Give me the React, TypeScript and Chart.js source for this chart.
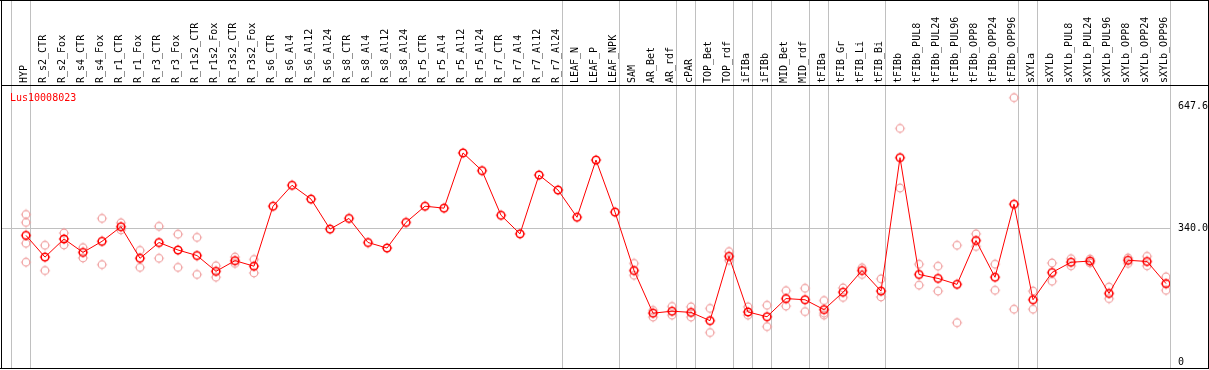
import React, { useEffect, useRef } from "react";
import { Chart, registerables } from "chart.js";

Chart.register(...registerables);

const TITLE = "Lus10008023";

const CATEGORIES = [
  "HYP",
  "R_s2_CTR", "R_s2_Fox", "R_s4_CTR", "R_s4_Fox", "R_r1_CTR", "R_r1_Fox",
  "R_r3_CTR", "R_r3_Fox", "R_r1s2_CTR", "R_r1s2_Fox", "R_r3s2_CTR", "R_r3s2_Fox",
  "R_s6_CTR", "R_s6_Al4", "R_s6_Al12", "R_s6_Al24",
  "R_s8_CTR", "R_s8_Al4", "R_s8_Al12", "R_s8_Al24",
  "R_r5_CTR", "R_r5_Al4", "R_r5_Al12", "R_r5_Al24",
  "R_r7_CTR", "R_r7_Al4", "R_r7_Al12", "R_r7_Al24",
  "LEAF_N", "LEAF_P", "LEAF_NPK",
  "SAM", "AR_Bet", "AR_rdf", "cPAR", "TOP_Bet", "TOP_rdf",
  "iFIBa", "iFIBb", "MID_Bet", "MID_rdf",
  "tFIBa", "tFIB_Gr", "tFIB_Li", "tFIB_Bi",
  "tFIBb", "tFIBb_PUL8", "tFIBb_PUL24", "tFIBb_PUL96", "tFIBb_OPP8", "tFIBb_OPP24", "tFIBb_OPP96",
  "sXYLa", "sXYLb", "sXYLb_PUL8", "sXYLb_PUL24", "sXYLb_PUL96", "sXYLb_OPP8", "sXYLb_OPP24", "sXYLb_OPP96",
];

const MEANS = [
  322,
  267, 313, 279, 307, 344, 264, 304, 285, 271, 231, 258, 244,
  396, 449, 414, 338,
  365, 304, 290, 355,
  396, 391, 531, 486,
  373, 326, 475, 437,
  368, 513, 381,
  233, 125, 130, 127, 106, 269,
  128, 116, 162, 159,
  134, 178, 233, 181,
  519, 223, 213, 198, 309, 216, 401,
  159, 228, 254, 257, 175, 259, 256, 200,
];

const N = null;
const REP_A = [
  375,
  297, 328, 291, 365, 354, 284, 345, 325, 317, 245, 267, 261,
  N, N, N, N, N, N, N, N, N, N, N, N, N, N, N, N,
  N, N, N,
  251, 132, 142, 141, 137, 281,
  141, 145, 182, 188,
  157, 189, 240, 212,
  593, 249, 244, 297, 326, 249, 671,
  181, 252, 263, 262, 191, 265, 269, 217,
];
const REP_B = [
  355,
  233, 298, 265, 248, 336, 241, 264, 241, 223, 216, 251, 227,
  N, N, N, N, N, N, N, N, N, N, N, N, N, N, N, N,
  N, N, N,
  221, 115, 120, 115, 76, 259,
  120, 91, 143, 129,
  120, 165, 223, 166,
  442, 196, 181, 101, 294, 183, 135,
  135, 206, 245, 252, 162, 251, 245, 183,
];
const REP_C = [
  302,
  N, N, N, N, N, N, N, N, N, N, N, N,
  N, N, N, N, N, N, N, N, N, N, N, N, N, N, N, N,
  N, N, N,
  N, N, N, N, N, N,
  N, N, N, N,
  125, N, N, N,
  N, N, N, N, N, N, N,
  N, N, N, N, N, N, N, N,
];
const REP_D = [
  254,
  N, N, N, N, N, N, N, N, N, N, N, N,
  N, N, N, N, N, N, N, N, N, N, N, N, N, N, N, N,
  N, N, N,
  N, N, N, N, N, N,
  N, N, N, N,
  N, N, N, N,
  N, N, N, N, N, N, N,
  N, N, N, N, N, N, N, N,
];

const Y_TICKS = [0, 340, 647.6];
const Y_TICK_LABELS = ["0", "340.0", "647.6"];
const Y_GRID_VALUES = [340];
// index of the last category of each group (separator drawn just after it)
const GROUP_ENDS = [-1, 0, 28, 31, 34, 35, 37, 38, 39, 41, 42, 45, 52, 53, 60];

const W = 1209;
const H = 370;
const MONO = "'DejaVu Sans Mono', 'Liberation Mono', monospace";

function makeMarker(color: string, lw: number): HTMLCanvasElement {
  const c = document.createElement("canvas");
  c.width = 12;
  c.height = 12;
  const g = c.getContext("2d")!;
  g.strokeStyle = color;
  g.fillStyle = color;
  g.lineWidth = lw;
  g.beginPath();
  g.arc(6, 6, 3.8, 0, Math.PI * 2);
  g.stroke();
  // tiny tick marks at the four cardinal points
  g.fillRect(5.5, 0.8, 1, 1);
  g.fillRect(5.5, 10.2, 1, 1);
  g.fillRect(0.8, 5.5, 1, 1);
  g.fillRect(10.2, 5.5, 1, 1);
  return c;
}

const toPoints = (arr: (number | null)[]) =>
  arr.map((v, i) => ({ x: i, y: v })).filter((p) => p.y !== null);

const zeroPad = (s: any) => {
  s.paddingLeft = 0;
  s.paddingRight = 0;
  s.paddingTop = 0;
  s.paddingBottom = 0;
};

export default function App() {
  const ref = useRef<HTMLCanvasElement | null>(null);

  useEffect(() => {
    document.body.style.margin = "0";
    const canvas = ref.current!;
    const meanMarker = makeMarker("#ff0000", 1.5);
    const repMarker = makeMarker("#f0a0a0", 1.2);

    const framePlugin = {
      id: "frame",
      beforeDraw(chart: any) {
        const ctx = chart.ctx;
        ctx.save();
        ctx.fillStyle = "#ffffff";
        ctx.fillRect(0, 0, W, H);
        ctx.restore();
      },
      beforeDatasetsDraw(chart: any) {
        const ctx = chart.ctx;
        const xs = chart.scales.x;
        ctx.save();
        ctx.fillStyle = "#c0c0c0";
        GROUP_ENDS.forEach((g) => {
          const px = xs.getPixelForValue(g + 0.237);
          ctx.fillRect(Math.floor(px), 0, 1, 369);
        });
        ctx.restore();
      },
      afterDraw(chart: any) {
        const ctx = chart.ctx;
        const area = chart.chartArea;
        ctx.save();
        ctx.fillStyle = "#000000";
        ctx.fillRect(0, 0, W, 1);
        ctx.fillRect(1, 0, 1, 369);
        ctx.fillRect(W - 1, 0, 1, 369);
        ctx.fillRect(0, 368, W, 1);
        ctx.fillRect(1, area.top - 1, W - 1, 1);
        ctx.fillStyle = "#ff0000";
        ctx.font = "10px " + MONO;
        ctx.textBaseline = "alphabetic";
        ctx.textAlign = "left";
        ctx.fillText(TITLE, area.left + 8, area.top + 15);
        ctx.restore();
      },
    };

    const chart = new Chart(canvas, {
      type: "line",
      data: {
        datasets: [
          {
            label: "mean",
            data: toPoints(MEANS) as any,
            borderColor: "#ff0000",
            backgroundColor: "#ff0000",
            borderWidth: 1,
            pointStyle: meanMarker as any,
            pointRadius: 5,
            tension: 0,
            order: 0,
          },
          ...[REP_A, REP_B, REP_C, REP_D].map((rep, k) => ({
            label: "rep" + (k + 1),
            data: toPoints(rep) as any,
            showLine: false,
            borderColor: "#f0a0a0",
            backgroundColor: "#f0a0a0",
            pointStyle: repMarker as any,
            pointRadius: 5,
            order: 1,
          })),
        ],
      },
      options: {
        animation: false,
        responsive: false,
        events: [],
        layout: { autoPadding: false, padding: { left: 2, right: 0, top: 0, bottom: 2 } },
        plugins: {
          legend: { display: false },
          tooltip: { enabled: false },
          title: { display: false },
        },
        scales: {
          x: {
            type: "linear",
            position: "top",
            min: -1.263,
            max: 60.21,
            grid: { display: false, drawTicks: false },
            border: { display: false },
            afterFit: (s: any) => {
              s.height = 86;
              zeroPad(s);
            },
            afterBuildTicks: (s: any) => {
              s.ticks = CATEGORIES.map((_, i) => ({ value: i }));
            },
            ticks: {
              autoSkip: false,
              minRotation: 90,
              maxRotation: 90,
              padding: 3,
              labelOffset: 10,
              color: "#000000",
              font: { family: MONO, size: 10 },
              callback: (v: any) => CATEGORIES[v as number] ?? "",
            },
          },
          y: {
            type: "linear",
            position: "right",
            min: -13.9,
            max: 700.5,
            grid: {
              drawTicks: false,
              color: (c: any) =>
                c.tick && Y_GRID_VALUES.includes(c.tick.value) ? "#c0c0c0" : "rgba(0,0,0,0)",
              lineWidth: 1,
            },
            border: { display: false },
            afterFit: (s: any) => {
              s.width = 39;
              zeroPad(s);
            },
            afterBuildTicks: (s: any) => {
              s.ticks = Y_TICKS.map((v) => ({ value: v }));
            },
            ticks: {
              padding: 8,
              color: "#000000",
              font: { family: MONO, size: 10 },
              callback: (v: any) => {
                const idx = Y_TICKS.indexOf(v as number);
                return idx >= 0 ? Y_TICK_LABELS[idx] : "";
              },
            },
          },
        },
      },
      plugins: [framePlugin],
    });

    return () => chart.destroy();
  }, []);

  return (
    <canvas
      ref={ref}
      width={W}
      height={H}
      style={{ display: "block", width: W + "px", height: H + "px" }}
    />
  );
}
